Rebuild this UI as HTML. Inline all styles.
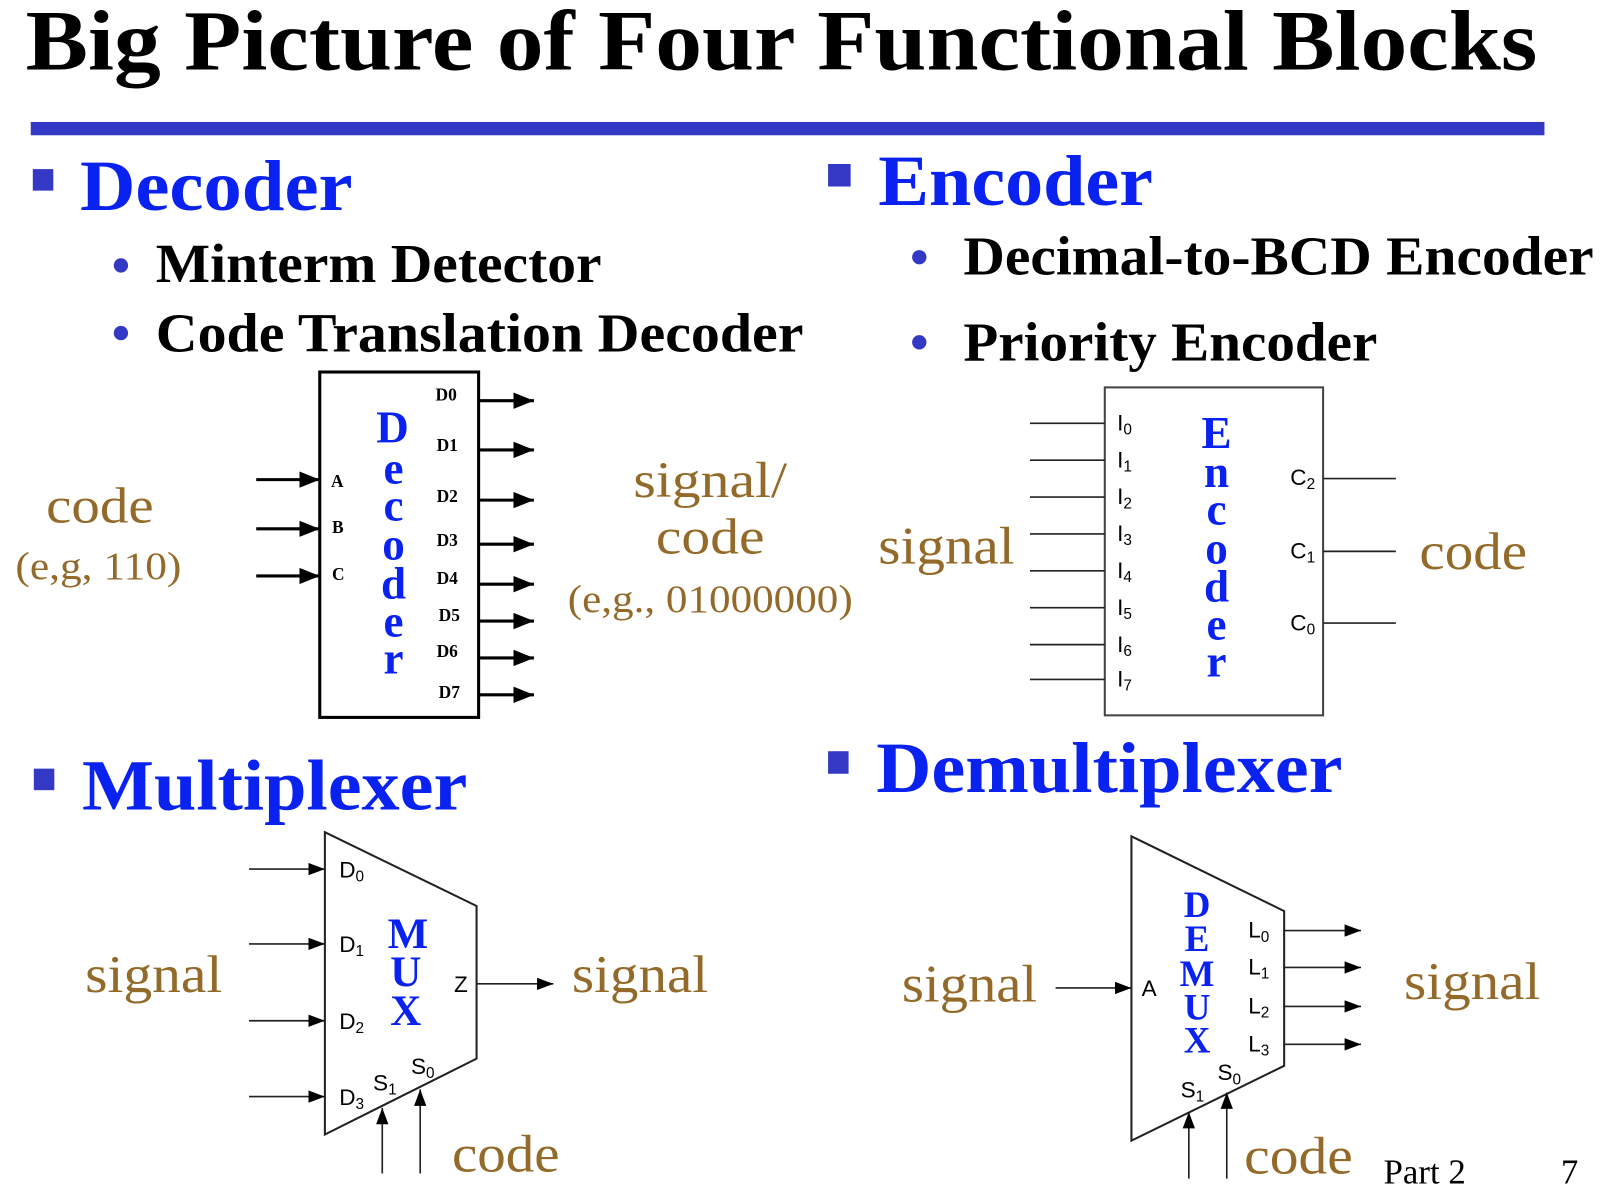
<!DOCTYPE html>
<html><head><meta charset="utf-8"><style>
html,body{margin:0;padding:0;background:#fff;}
svg{display:block;}
.t{font-family:"Liberation Serif",serif;font-weight:bold;}
.s{font-family:"Liberation Serif",serif;}
.a{font-family:"Liberation Sans",sans-serif;}
</style></head><body>
<svg width="1608" height="1196" viewBox="0 0 1569 1167" xmlns="http://www.w3.org/2000/svg">
<defs>
<marker id="ab" markerWidth="20" markerHeight="16" refX="20" refY="8" orient="auto" markerUnits="userSpaceOnUse"><path d="M0,0 L20,8 L0,16 z" fill="#000"/></marker>
<marker id="am" markerWidth="16" markerHeight="12" refX="16" refY="6" orient="auto" markerUnits="userSpaceOnUse"><path d="M0,0 L16,6 L0,12 z" fill="#000"/></marker>
</defs>
<text class="t" x="25" y="68" font-size="84" textLength="1475" lengthAdjust="spacingAndGlyphs">Big Picture of Four Functional Blocks</text>
<rect x="30" y="119" width="1477" height="13" fill="#3339c4"/>

<rect x="32" y="165" width="20" height="21" fill="#3339c4"/>
<text class="t" x="78" y="205" font-size="70" fill="#0a22f0" textLength="266" lengthAdjust="spacingAndGlyphs">Decoder</text>
<rect x="808" y="160" width="22" height="22" fill="#3339c4"/>
<text class="t" x="857" y="200" font-size="70" fill="#0a22f0" textLength="268" lengthAdjust="spacingAndGlyphs">Encoder</text>
<rect x="33" y="750" width="20" height="21" fill="#3339c4"/>
<text class="t" x="80" y="790" font-size="70" fill="#0a22f0" textLength="376" lengthAdjust="spacingAndGlyphs">Multiplexer</text>
<rect x="808" y="733" width="20" height="22" fill="#3339c4"/>
<text class="t" x="855" y="773" font-size="70" fill="#0a22f0" textLength="455" lengthAdjust="spacingAndGlyphs">Demultiplexer</text>

<circle cx="118" cy="259" r="7" fill="#3339c4"/>
<text class="t" x="152" y="275" font-size="54" textLength="435" lengthAdjust="spacingAndGlyphs">Minterm Detector</text>
<circle cx="118" cy="325" r="7" fill="#3339c4"/>
<text class="t" x="152" y="343" font-size="54" textLength="632" lengthAdjust="spacingAndGlyphs">Code Translation Decoder</text>
<circle cx="897" cy="251" r="7" fill="#3339c4"/>
<text class="t" x="940" y="268" font-size="54" textLength="615" lengthAdjust="spacingAndGlyphs">Decimal-to-BCD Encoder</text>
<circle cx="897" cy="334" r="7" fill="#3339c4"/>
<text class="t" x="940" y="352" font-size="54" textLength="404" lengthAdjust="spacingAndGlyphs">Priority Encoder</text>

<!-- Decoder -->
<rect x="312" y="363" width="155" height="337" fill="none" stroke="#000" stroke-width="3"/>
<g stroke="#000" stroke-width="3">
<line x1="250" y1="468" x2="312" y2="468" marker-end="url(#ab)"/>
<line x1="250" y1="516" x2="312" y2="516" marker-end="url(#ab)"/>
<line x1="250" y1="562" x2="312" y2="562" marker-end="url(#ab)"/>
<line x1="467" y1="391" x2="521" y2="391" marker-end="url(#ab)"/>
<line x1="467" y1="439" x2="521" y2="439" marker-end="url(#ab)"/>
<line x1="467" y1="488" x2="521" y2="488" marker-end="url(#ab)"/>
<line x1="467" y1="531" x2="521" y2="531" marker-end="url(#ab)"/>
<line x1="467" y1="570" x2="521" y2="570" marker-end="url(#ab)"/>
<line x1="467" y1="606" x2="521" y2="606" marker-end="url(#ab)"/>
<line x1="467" y1="642" x2="521" y2="642" marker-end="url(#ab)"/>
<line x1="467" y1="678" x2="521" y2="678" marker-end="url(#ab)"/>
</g>
<g class="t" font-size="17">
<text x="323" y="475">A</text><text x="324" y="520">B</text><text x="324" y="566">C</text>
<text x="425" y="391">D0</text><text x="426" y="440">D1</text><text x="426" y="490">D2</text><text x="426" y="533">D3</text>
<text x="426" y="570">D4</text><text x="428" y="606">D5</text><text x="426" y="641">D6</text><text x="428" y="681">D7</text>
</g>
<g class="t" font-size="44" fill="#0a22f0" text-anchor="middle">
<text x="383" y="432">D</text><text x="384" y="472">e</text><text x="384" y="508">c</text><text x="384" y="546">o</text>
<text x="384" y="584">d</text><text x="384" y="621">e</text><text x="384" y="657">r</text>
</g>
<g class="s" fill="#946a2a">
<text x="45" y="510" font-size="50" textLength="105" lengthAdjust="spacingAndGlyphs">code</text>
<text x="15" y="565" font-size="38" textLength="162" lengthAdjust="spacingAndGlyphs">(e,g, 110)</text>
<text x="618" y="485" font-size="50" textLength="150" lengthAdjust="spacingAndGlyphs">signal/</text>
<text x="640" y="540" font-size="50" textLength="106" lengthAdjust="spacingAndGlyphs">code</text>
<text x="554" y="597" font-size="38" textLength="278" lengthAdjust="spacingAndGlyphs">(e,g., 01000000)</text>
</g>

<!-- Encoder -->
<rect x="1078" y="378" width="213" height="320" fill="none" stroke="#444" stroke-width="2"/>
<g stroke="#222" stroke-width="1.6">
<line x1="1005" y1="413" x2="1078" y2="413"/><line x1="1005" y1="449" x2="1078" y2="449"/>
<line x1="1005" y1="485" x2="1078" y2="485"/><line x1="1005" y1="521" x2="1078" y2="521"/>
<line x1="1005" y1="557" x2="1078" y2="557"/><line x1="1005" y1="593" x2="1078" y2="593"/>
<line x1="1005" y1="629" x2="1078" y2="629"/><line x1="1005" y1="663" x2="1078" y2="663"/>
<line x1="1291" y1="467" x2="1362" y2="467"/><line x1="1291" y1="538" x2="1362" y2="538"/>
<line x1="1291" y1="608" x2="1362" y2="608"/>
</g>
<g class="a" font-size="22">
<text x="1090" y="420">I<tspan font-size="15" dy="4">0</tspan></text>
<text x="1090" y="456">I<tspan font-size="15" dy="4">1</tspan></text>
<text x="1090" y="492">I<tspan font-size="15" dy="4">2</tspan></text>
<text x="1090" y="528">I<tspan font-size="15" dy="4">3</tspan></text>
<text x="1090" y="564">I<tspan font-size="15" dy="4">4</tspan></text>
<text x="1090" y="600">I<tspan font-size="15" dy="4">5</tspan></text>
<text x="1090" y="636">I<tspan font-size="15" dy="4">6</tspan></text>
<text x="1090" y="670">I<tspan font-size="15" dy="4">7</tspan></text>
<text x="1259" y="473">C<tspan font-size="15" dy="4">2</tspan></text>
<text x="1259" y="545">C<tspan font-size="15" dy="4">1</tspan></text>
<text x="1259" y="615">C<tspan font-size="15" dy="4">0</tspan></text>
</g>
<g class="t" font-size="44" fill="#0a22f0" text-anchor="middle">
<text x="1187" y="437">E</text><text x="1187" y="475">n</text><text x="1187" y="512">c</text><text x="1187" y="550">o</text>
<text x="1187" y="587">d</text><text x="1187" y="624">e</text><text x="1187" y="660">r</text>
</g>
<g class="s" fill="#946a2a" font-size="52">
<text x="857" y="550" textLength="133" lengthAdjust="spacingAndGlyphs">signal</text>
<text x="1385" y="555" textLength="105" lengthAdjust="spacingAndGlyphs">code</text>
</g>

<!-- MUX -->
<polygon points="317,812 465,884 465,1033 317,1107" fill="none" stroke="#222" stroke-width="2"/>
<g stroke="#222" stroke-width="1.6">
<line x1="243" y1="848" x2="317" y2="848" marker-end="url(#am)"/>
<line x1="243" y1="921" x2="317" y2="921" marker-end="url(#am)"/>
<line x1="243" y1="996" x2="317" y2="996" marker-end="url(#am)"/>
<line x1="243" y1="1070" x2="317" y2="1070" marker-end="url(#am)"/>
<line x1="465" y1="960" x2="540" y2="960" marker-end="url(#am)"/>
<line x1="373" y1="1145" x2="373" y2="1081" marker-end="url(#am)"/>
<line x1="410" y1="1145" x2="410" y2="1063" marker-end="url(#am)"/>
</g>
<g class="a" font-size="22">
<text x="331" y="856">D<tspan font-size="15" dy="4">0</tspan></text>
<text x="331" y="929">D<tspan font-size="15" dy="4">1</tspan></text>
<text x="331" y="1004">D<tspan font-size="15" dy="4">2</tspan></text>
<text x="331" y="1078">D<tspan font-size="15" dy="4">3</tspan></text>
<text x="364" y="1064">S<tspan font-size="15" dy="4">1</tspan></text>
<text x="401" y="1048">S<tspan font-size="15" dy="4">0</tspan></text>
<text x="443" y="968">Z</text>
</g>
<g class="t" font-size="42" fill="#0a22f0" text-anchor="middle">
<text x="398" y="925">M</text><text x="396" y="962">U</text><text x="396" y="1000">X</text>
</g>
<g class="s" fill="#946a2a" font-size="52">
<text x="83" y="968" textLength="134" lengthAdjust="spacingAndGlyphs">signal</text>
<text x="558" y="968" textLength="133" lengthAdjust="spacingAndGlyphs">signal</text>
<text x="441" y="1143" textLength="105" lengthAdjust="spacingAndGlyphs">code</text>
</g>

<!-- DEMUX -->
<polygon points="1104,816 1253,889 1253,1040 1104,1113" fill="none" stroke="#222" stroke-width="2"/>
<g stroke="#222" stroke-width="1.6">
<line x1="1030" y1="964" x2="1104" y2="964" marker-end="url(#am)"/>
<line x1="1253" y1="908" x2="1328" y2="908" marker-end="url(#am)"/>
<line x1="1253" y1="944" x2="1328" y2="944" marker-end="url(#am)"/>
<line x1="1253" y1="982" x2="1328" y2="982" marker-end="url(#am)"/>
<line x1="1253" y1="1019" x2="1328" y2="1019" marker-end="url(#am)"/>
<line x1="1160" y1="1150" x2="1160" y2="1085" marker-end="url(#am)"/>
<line x1="1197" y1="1150" x2="1197" y2="1066" marker-end="url(#am)"/>
</g>
<g class="a" font-size="22">
<text x="1114" y="972">A</text>
<text x="1218" y="915">L<tspan font-size="15" dy="4">0</tspan></text>
<text x="1218" y="951">L<tspan font-size="15" dy="4">1</tspan></text>
<text x="1218" y="989">L<tspan font-size="15" dy="4">2</tspan></text>
<text x="1218" y="1026">L<tspan font-size="15" dy="4">3</tspan></text>
<text x="1152" y="1071">S<tspan font-size="15" dy="4">1</tspan></text>
<text x="1188" y="1054">S<tspan font-size="15" dy="4">0</tspan></text>
</g>
<g class="t" font-size="36" fill="#0a22f0" text-anchor="middle">
<text x="1168" y="895">D</text><text x="1168" y="928">E</text><text x="1168" y="962">M</text>
<text x="1168" y="995">U</text><text x="1168" y="1027">X</text>
</g>
<g class="s" fill="#946a2a" font-size="52">
<text x="880" y="977" textLength="132" lengthAdjust="spacingAndGlyphs">signal</text>
<text x="1370" y="975" textLength="133" lengthAdjust="spacingAndGlyphs">signal</text>
<text x="1214" y="1145" textLength="106" lengthAdjust="spacingAndGlyphs">code</text>
</g>
<text class="s" x="1350" y="1155" font-size="34">Part 2</text>
<text class="s" x="1523" y="1155" font-size="34">7</text>
</svg>
</body></html>
